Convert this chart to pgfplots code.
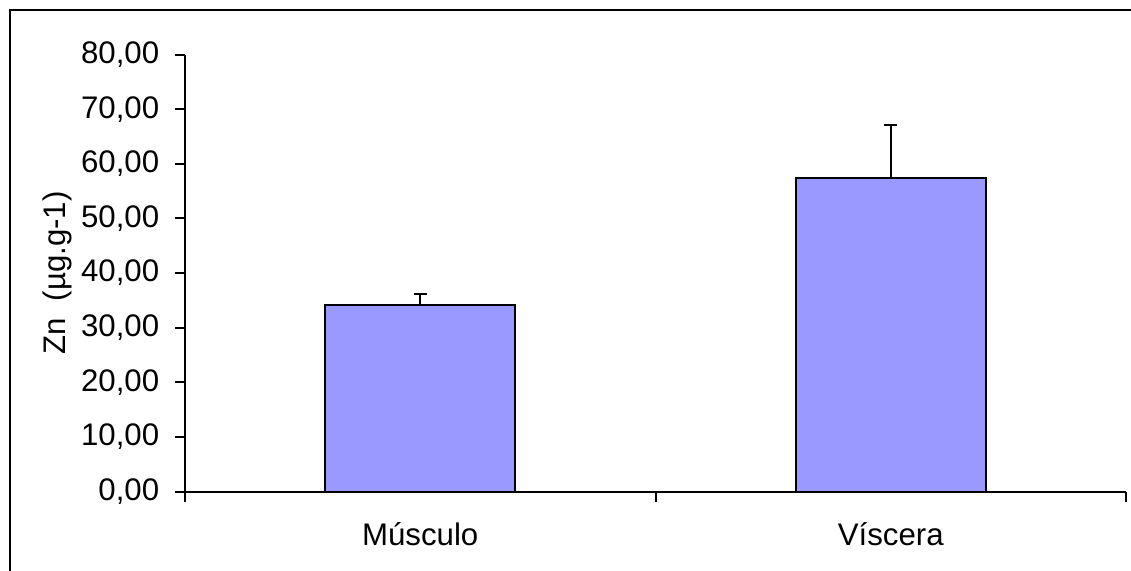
\documentclass[border=0pt]{standalone}
\usepackage{pgfplots}
\pgfplotsset{compat=1.18}
\usepackage{fontspec}
\setmainfont{Liberation Sans}
\definecolor{barfill}{HTML}{9999FF}
\begin{document}
\begin{tikzpicture}
\fontsize{15.6}{19}\selectfont
\begin{axis}[
 at={(92.5pt,39.65pt)}, anchor=south west,
 scale only axis, width=470.5pt, height=218.6pt,
 xmin=-0.5, xmax=1.5, ymin=0, ymax=80,
 axis x line*=bottom, axis y line*=left,
 axis line style={line width=1pt},
 tick align=outside, major tick length=5pt,
 tick style={line width=1pt, black},
 ytick={0,10,...,80},
 yticklabel style={xshift=-2.5pt, /pgf/number format/.cd, fixed, fixed zerofill, precision=2, use comma, assume math mode=true},
 xtick={-0.5,0.5,1.5}, xticklabels={},
 extra x ticks={0,1}, extra x tick labels={Músculo, Víscera},
 extra x tick style={major tick length=0pt, xticklabel style={yshift=-10pt}},
 ylabel={Zn\ \ (µg.g-1)},
 ylabel style={at={(axis description cs:-0.136,0.5)}, anchor=center},
]
\addplot[ybar, bar width=95pt, fill=barfill, draw=black, line width=1pt,
  error bars/.cd, y dir=plus, y explicit,
  error bar style={line width=1pt, black},
  error mark options={rotate=90, mark size=3.2pt, line width=1pt, black}]
  coordinates {(0,34.16) +- (0,1.95) (1,57.46) +- (0,9.64)};
\end{axis}
\draw[line width=1pt] (5pt,-20pt) rectangle (600pt,280.5pt);
\pgfresetboundingbox
\path[use as bounding box] (0,0) rectangle (565.5pt,285.5pt);
\end{tikzpicture}
\end{document}
